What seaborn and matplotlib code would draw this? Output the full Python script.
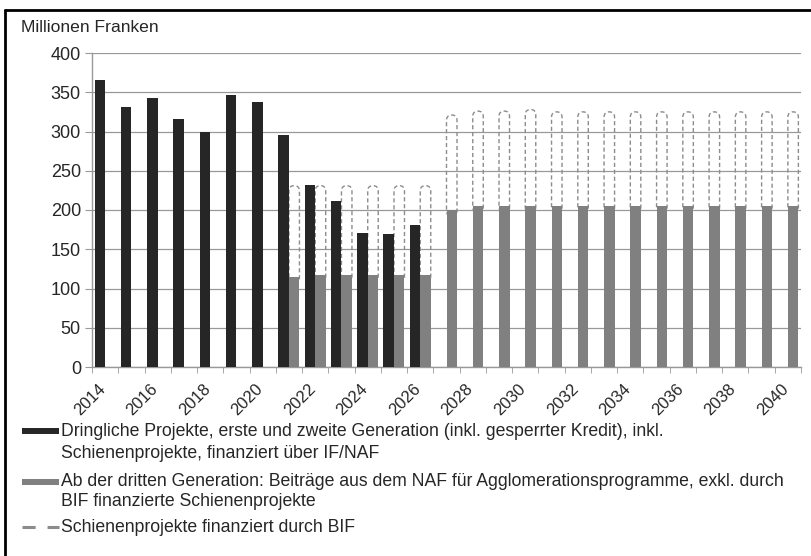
import matplotlib
matplotlib.use("Agg")
import matplotlib.pyplot as plt
import matplotlib.transforms as mtransforms
import seaborn as sns
import pandas as pd
from matplotlib.patches import FancyBboxPatch
from matplotlib.lines import Line2D

# years on the x axis
years = list(range(2014, 2041))

# Dringliche Projekte (black), 2014-2026
dringlich_years = list(range(2014, 2027))
dringlich = [366, 331, 343, 316, 299, 346, 337, 296, 232, 212, 171, 169, 181]

# NAF ab dritter Generation (grey), 2021-2040
naf_years = list(range(2021, 2041))
naf = [115, 117, 117, 117, 117, 117, 200, 205, 205, 205, 205, 205, 205, 205,
       205, 205, 205, 205, 205, 205]

# Schienenprojekte BIF (dashed, stacked on grey), 2021-2040
bif = [116, 114, 114, 114, 114, 114, 121, 121, 121, 123, 120, 120, 120, 120,
       120, 120, 120, 120, 120, 120]

legend_lines = [
    ["Dringliche Projekte, erste und zweite Generation (inkl. gesperrter Kredit), inkl.",
     "Schienenprojekte, finanziert über IF/NAF"],
    ["Ab der dritten Generation: Beiträge aus dem NAF für Agglomerationsprogramme, exkl. durch",
     "BIF finanzierte Schienenprojekte"],
    ["Schienenprojekte finanziert durch BIF"],
]

black = "#262626"
grey = "#808080"
dash_col = "#8c8c8c"

sns.set_style("white")
plt.rcParams["font.family"] = ["Liberation Sans", "DejaVu Sans"]

df = pd.concat([
    pd.DataFrame({"Jahr": [str(y) for y in dringlich_years], "Wert": dringlich, "Reihe": "dringlich"}),
    pd.DataFrame({"Jahr": [str(y) for y in naf_years], "Wert": naf, "Reihe": "naf"}),
])
year_labels = [str(y) for y in years]

W, H = 811, 556
fig = plt.figure(figsize=(W / 100, H / 100), dpi=100)
ax = fig.add_axes([92 / W, 1 - 367 / H, (801 - 92) / W, (367 - 53) / H])

sns.barplot(data=df, x="Jahr", y="Wert", hue="Reihe", order=year_labels,
            hue_order=["dringlich", "naf"], palette=[black, grey], saturation=1,
            width=0.8, linewidth=0, legend=False, ax=ax, zorder=3)

ax.set_xlim(-0.5, len(years) - 0.5)
ax.set_ylim(0, 400)
ax.set_yticks(range(0, 401, 50))

# dashed BIF boxes on top of the grey bars
bif_by_year = dict(zip(naf_years, bif))
p0 = ax.transData.transform((0, 0))
p1 = ax.transData.transform((1, 1))
aspect = (p1[0] - p0[0]) / (p1[1] - p0[1])
for patch in ax.containers[1]:
    h = patch.get_height()
    if not h or h != h:
        continue
    idx = int(round(patch.get_x()))
    w = patch.get_width()
    overlap = 8
    box = FancyBboxPatch((patch.get_x(), h - overlap), w, bif_by_year[years[idx]] + overlap,
                         boxstyle=f"round,pad=0,rounding_size={w / 2}",
                         mutation_aspect=aspect, facecolor="none",
                         edgecolor=dash_col, linestyle=(0, (3, 2)), linewidth=1.0,
                         zorder=2.5)
    ax.add_patch(box)

# axes styling
ax.set_axisbelow(True)
ax.yaxis.grid(True, color="#999999", linewidth=0.9)
for s in ["top", "right"]:
    ax.spines[s].set_visible(False)
for s in ["left", "bottom"]:
    ax.spines[s].set_color("#999999")
    ax.spines[s].set_linewidth(1.0)
ax.set_xlabel("")
ax.set_ylabel("")
ax.tick_params(axis="y", length=5, color="#999999", labelsize=13, pad=3, left=True)
ax.set_xticks(range(len(years)))
ax.set_xticklabels([y if i % 2 == 0 else "" for i, y in enumerate(year_labels)],
                   rotation=45, ha="right", va="center", rotation_mode="anchor", fontsize=12)
ax.tick_params(axis="x", length=0, pad=14)
offset = mtransforms.ScaledTranslation(-2 / 100, 0, fig.dpi_scale_trans)
for lab in ax.get_xticklabels():
    lab.set_transform(lab.get_transform() + offset)
ax.set_xticks([i - 0.5 for i in range(len(years) + 1)], minor=True)
ax.tick_params(axis="x", which="minor", length=4, color="#999999", bottom=True)

fig.text(21 / W, 1 - 28 / H, "Millionen Franken", fontsize=12.6, va="center", ha="left")

# legend, drawn by hand so the key sits beside the first line of each entry
line_y = [[431, 453], [482, 501], [527]]
keys = [
    dict(color=black, linewidth=4.3, solid_capstyle="butt"),
    dict(color=grey, linewidth=4.3, solid_capstyle="butt"),
    dict(color=dash_col, linewidth=2.2, linestyle=(0, (4.3, 3.9)), dash_capstyle="butt"),
]
for lines, ys, key in zip(legend_lines, line_y, keys):
    fig.add_artist(Line2D([22 / W, 59 / W], [1 - ys[0] / H] * 2,
                          transform=fig.transFigure, **key))
    for txt, y in zip(lines, ys):
        fig.text(61 / W, 1 - y / H, txt, fontsize=12.7, va="center", ha="left")

# border on top and left
fig.add_artist(Line2D([5.3 / W, 1], [1 - 9.7 / H, 1 - 9.7 / H], color="black",
                      linewidth=2, transform=fig.transFigure))
fig.add_artist(Line2D([5.3 / W, 5.3 / W], [0, 1 - 9.7 / H], color="black",
                      linewidth=2, transform=fig.transFigure))

fig.savefig("out.png", dpi=100)
